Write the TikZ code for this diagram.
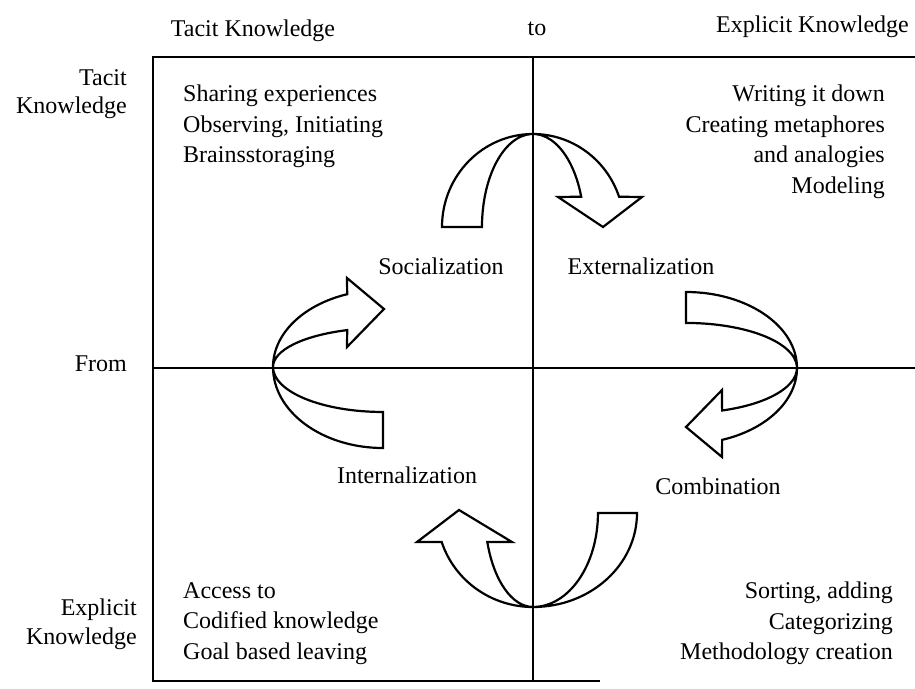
\documentclass[tikz,border=0pt]{standalone}
\usepackage{fontspec}
\setmainfont{Liberation Serif}
\begin{document}
\begin{tikzpicture}[x=1pt,y=-1pt,
  lbl/.style={inner sep=0pt, font=\fontsize{24}{30.5}\selectfont},
  rule/.style={line width=1.7pt},
  bigarrow/.style={line width=2.2pt, line join=miter}]
\useasboundingbox (0,0) rectangle (915,688);
% frame and dividers
\coordinate (tl) at (153,57);
\coordinate (tr) at (915,57);
\coordinate (bl) at (153,681);
\coordinate (br) at (600,681);
\coordinate (vt) at (533,57);
\coordinate (vb) at (533,681);
\coordinate (hl) at (153,368);
\coordinate (hr) at (915,368);
\draw[rule] (tr) -- (tl) -- (bl) -- (br);
\draw[rule] (vt) -- (vb);
\draw[rule] (hl) -- (hr);
% top arrow
\draw[bigarrow] (442,227) arc[start angle=180, end angle=341, x radius=91, y radius=93]
  -- (642,197) -- (603,227) -- (558,197) -- (581.2,196.7)
  arc[start angle=341, end angle=180, x radius=51, y radius=93] -- cycle;
% right arrow
\draw[bigarrow] (686,292) arc[start angle=270, end angle=431, x radius=111, y radius=76]
  -- (722,457) -- (686,427) -- (722,390) -- (722.1,410.5)
  arc[start angle=431, end angle=270, x radius=111, y radius=45] -- cycle;
% bottom arrow
\draw[bigarrow] (637,513) arc[start angle=0, end angle=90, x radius=104, y radius=94]
  arc[start angle=90, end angle=162, x radius=96, y radius=94]
  -- (417,542) -- (459,510) -- (512,542) -- (487.3,542)
  arc[start angle=162, end angle=90, x radius=48, y radius=94]
  arc[start angle=90, end angle=0, x radius=65, y radius=94] -- cycle;
% left arrow
\draw[bigarrow] (383,448) arc[start angle=90, end angle=180, x radius=110, y radius=81]
  arc[start angle=180, end angle=251, x radius=110, y radius=77]
  -- (347,278) -- (384,309) -- (347,347) -- (347.2,330.1)
  arc[start angle=251, end angle=180, x radius=110, y radius=39]
  arc[start angle=180, end angle=90, x radius=110, y radius=45] -- cycle;
% headings
\node[lbl] (tacittop) at (253,31) {Tacit Knowledge};
\node[lbl] (to) at (537,29) {to};
\node[lbl, anchor=west] (explicittop) at (716,27) {Explicit Knowledge};
\node[lbl, anchor=north east, align=right, font=\fontsize{24}{28}\selectfont] (tacitleft) at (127,69) {Tacit\\Knowledge};
\node[lbl, anchor=east] (from) at (127,364) {From};
\node[lbl, anchor=north east, align=right, font=\fontsize{24}{29}\selectfont] (explicitleft) at (137,599) {Explicit\\Knowledge};
% quadrant texts
\node[lbl, anchor=north west, align=left] (tltext) at (183,85) {Sharing experiences\\Observing, Initiating\\Brainsstoraging};
\node[lbl, anchor=north east, align=right] (trtext) at (885,85) {Writing it down\\Creating metaphores\\and analogies\\Modeling};
\node[lbl, anchor=north west, align=left] (bltext) at (183,582) {Access to\\Codified knowledge\\Goal based leaving};
\node[lbl, anchor=north east, align=right] (brtext) at (893,582) {Sorting, adding\\Categorizing\\Methodology creation};
% mode labels
\node[lbl] (soc) at (441,266) {Socialization};
\node[lbl] (ext) at (641,266) {Externalization};
\node[lbl] (int) at (407,475) {Internalization};
\node[lbl] (comb) at (718,486) {Combination};
\end{tikzpicture}
\end{document}
